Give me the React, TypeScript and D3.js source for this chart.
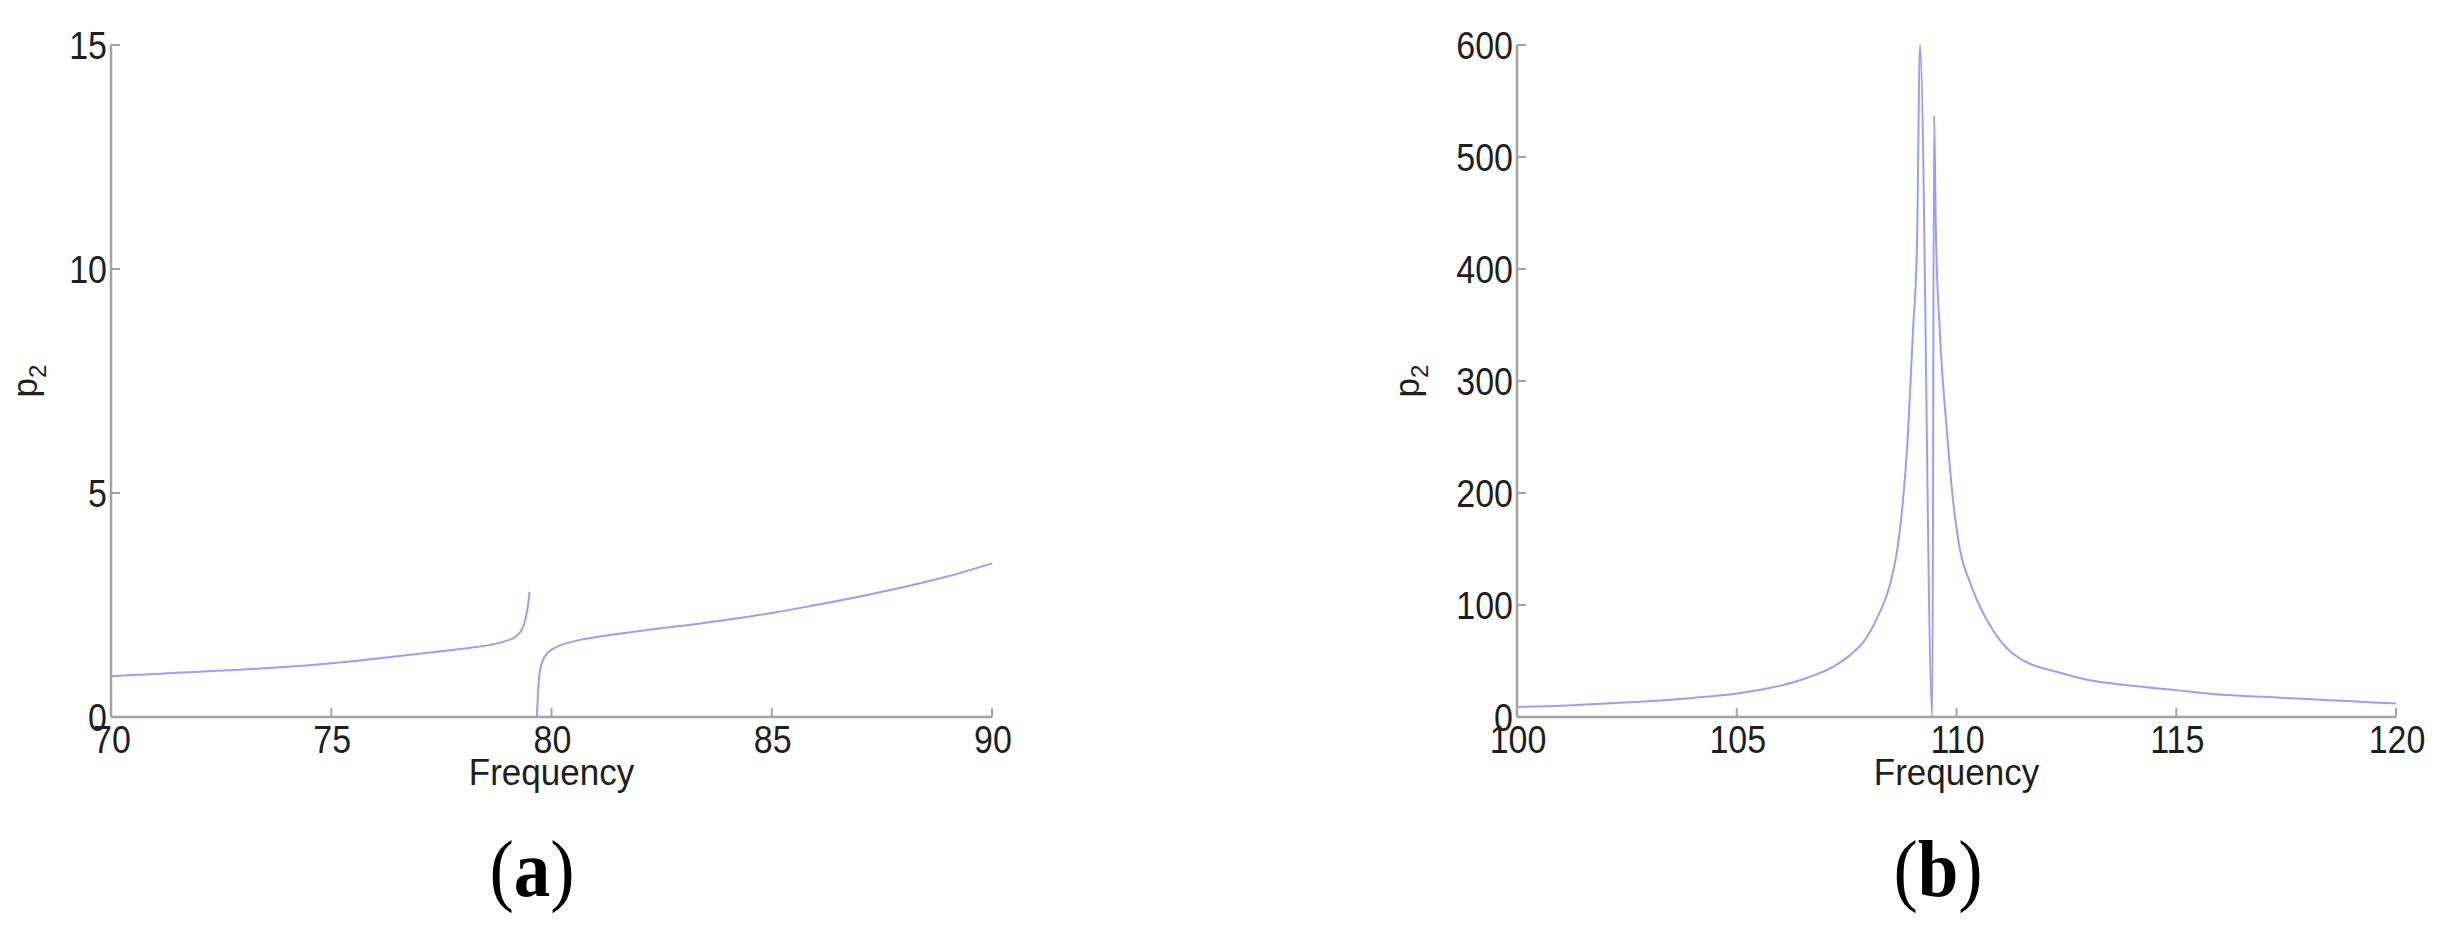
import React from 'react';
import * as d3 from 'd3';

// ---------- data ----------
// Panel (a): two branches around the anti-resonance near 79.6
const freqA1 = [70, 71, 72, 73, 74, 75, 76, 77, 77.6, 78.2, 78.6, 79.0, 79.2, 79.3, 79.38, 79.44, 79.48, 79.5];
const p2A1 = [0.91, 0.96, 1.01, 1.06, 1.12, 1.2, 1.3, 1.41, 1.48, 1.55, 1.61, 1.71, 1.8, 1.91, 2.08, 2.33, 2.6, 2.8];
const freqA2 = [79.67, 79.69, 79.72, 79.76, 79.82, 79.9, 80.0, 80.26, 80.6, 81.4, 82, 82.9, 84, 85, 86, 87, 88, 89, 90];
const p2A2 = [0, 0.5, 0.9, 1.13, 1.3, 1.42, 1.5, 1.62, 1.71, 1.84, 1.92, 2.03, 2.17, 2.32, 2.5, 2.69, 2.9, 3.14, 3.43];

// Panel (b): resonance around 109.3
const freqB = [100, 101, 102, 103, 104, 105, 106, 106.6, 107.2, 107.6, 107.9, 108.2, 108.5, 108.65, 108.75, 108.9, 109.01, 109.1, 109.17,
  109.45, 109.49, 109.53, 109.62, 109.78, 109.92, 110.08, 110.31, 110.47, 110.7, 111.0, 111.3, 112.4, 113, 114, 115, 116, 117, 118, 119, 120];
const p2B = [9, 10, 12, 14, 17, 21, 28, 35, 45, 56, 68, 89, 120, 149, 180, 256, 345, 420, 600,
  0, 537, 435, 345, 256, 194, 149, 120, 104, 86, 68, 56, 39, 33, 28, 24, 20, 18, 16, 14, 12];

const ticksA_x = [70, 75, 80, 85, 90];
const ticksA_y = [0, 5, 10, 15];
const ticksB_x = [100, 105, 110, 115, 120];
const ticksB_y = [0, 100, 200, 300, 400, 500, 600];

const xLabel = 'Frequency';
const panelTags = ['a', 'b'];

// ---------- styling ----------
const AXIS = '#a3a3a3';
const LINE = '#9c9cff';
const TEXT = '#1e1e1e';
const SANS = '"Liberation Sans", Arial, sans-serif';
const SERIF = '"Liberation Serif", "Times New Roman", serif';

type Series = { x: number[]; y: number[] };

function Panel(props: {
  left: number; right: number; top: number; bottom: number;
  xDomain: [number, number]; yDomain: [number, number];
  xTicks: number[]; yTicks: number[];
  series: Series[]; ylabelX: number; tag: string; tagX: number;
}) {
  const { left, right, top, bottom, xDomain, yDomain, xTicks, yTicks, series, ylabelX, tag, tagX } = props;
  const x = d3.scaleLinear().domain(xDomain).range([left, right]);
  const y = d3.scaleLinear().domain(yDomain).range([bottom, top]);
  const line = d3.line<[number, number]>().x(d => x(d[0])).y(d => y(d[1])).curve(d3.curveMonotoneX);
  const midX = (left + right) / 2;
  const midY = (top + bottom) / 2;
  return (
    <g>
      {series.map((s, i) => (
        <path key={i} d={line(s.x.map((v, j) => [v, s.y[j]] as [number, number])) || ''}
          fill="none" stroke={LINE} strokeWidth={2} strokeLinejoin="round" />
      ))}
      {/* axes */}
      <line x1={left} x2={left} y1={top} y2={bottom} stroke={AXIS} strokeWidth={2.5} />
      <line x1={left} x2={right} y1={bottom} y2={bottom} stroke={AXIS} strokeWidth={2.5} />
      {yTicks.map(t => (
        <g key={'y' + t}>
          <line x1={left} x2={left + 9} y1={y(t)} y2={y(t)} stroke={AXIS} strokeWidth={2} />
          <text transform={`translate(${left - 4},${y(t)}) scale(1,1.12)`} dy="0.36em" textAnchor="end"
            fontFamily={SANS} fontSize={34} fill={TEXT}>{t}</text>
        </g>
      ))}
      {xTicks.map(t => (
        <g key={'x' + t}>
          <line x1={x(t)} x2={x(t)} y1={bottom} y2={bottom - 9} stroke={AXIS} strokeWidth={2} />
          <text transform={`translate(${x(t) + 1},${bottom + 36}) scale(1,1.12)`} textAnchor="middle"
            fontFamily={SANS} fontSize={34} fill={TEXT}>{t}</text>
        </g>
      ))}
      <text transform={`translate(${midX},${bottom + 68}) scale(1,1.05)`} textAnchor="middle"
        fontFamily={SANS} fontSize={35} fill={TEXT}>{xLabel}</text>
      <text transform={`translate(${ylabelX},${midY}) rotate(-90)`} textAnchor="middle"
        fontFamily={SANS} fontSize={35} fill={TEXT}>
        p<tspan fontSize={24} dy={9}>2</tspan>
      </text>
      <text transform={`translate(${tagX},896) scale(1,1.1)`} textAnchor="middle" fontFamily={SERIF} fontSize={73} fill="#000">
        (<tspan fontWeight="bold">{tag}</tspan>)
      </text>
    </g>
  );
}

export default function App() {
  return (
    <svg width={2443} height={942} style={{ position: 'absolute', left: 0, top: 0, background: '#fff' }}>
      <rect x={0} y={0} width={2443} height={942} fill="#fff" />
      <Panel left={111} right={992} top={45} bottom={717}
        xDomain={[70, 90]} yDomain={[0, 15]} xTicks={ticksA_x} yTicks={ticksA_y}
        series={[{ x: freqA1, y: p2A1 }, { x: freqA2, y: p2A2 }]}
        ylabelX={37} tag={panelTags[0]} tagX={532} />
      <Panel left={1517} right={2396} top={45} bottom={717}
        xDomain={[100, 120]} yDomain={[0, 600]} xTicks={ticksB_x} yTicks={ticksB_y}
        series={[{ x: freqB, y: p2B }]}
        ylabelX={1419} tag={panelTags[1]} tagX={1938} />
    </svg>
  );
}
